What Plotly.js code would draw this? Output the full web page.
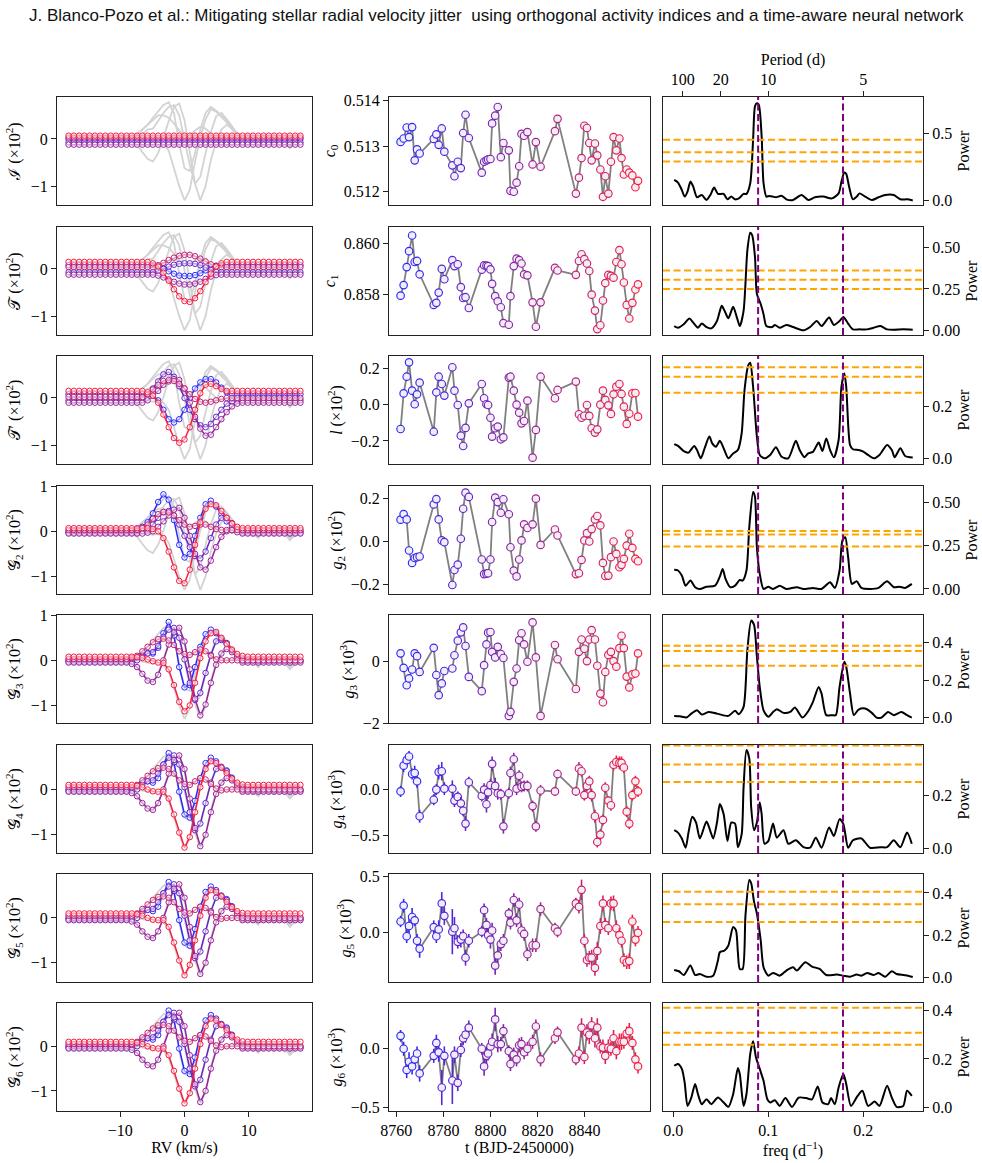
<!DOCTYPE html>
<html><head><meta charset="utf-8">
<script src="https://cdn.plot.ly/plotly-3.0.1.min.js"></script>
<style>html,body{margin:0;padding:0;background:#fff}</style>
</head><body><div id="chart" style="width:982px;height:1163px"></div>
<script>
// ---------------- DATA ----------------
const rvGrid = [-18.04,-17.22,-16.40,-15.58,-14.76,-13.94,-13.12,-12.30,-11.48,-10.66,-9.84,-9.02,-8.20,-7.38,-6.56,-5.74,-4.92,-4.10,-3.28,-2.46,-1.64,-0.82,0,0.82,1.64,2.46,3.28,4.10,4.92,5.74,6.56,7.38,8.20,9.02,9.84,10.66,11.48,12.30,13.12,13.94,14.76,15.58,16.40,17.22,18.04];

// gray observed profiles (x10^2), same background in every left panel
const grayA = [0.0,0.03,-0.02,0.0,0.04,0.0,-0.05,0.0,0.02,0.05,0.0,-0.03,0.02,0.0,-0.02,-0.05,-0.08,-0.06,-0.1,-0.25,-0.62,-1.0,-1.3,-1.08,-0.48,0.02,0.42,0.63,0.58,0.47,0.35,0.2,0.08,0.04,-0.02,0.05,-0.12,-0.02,0.03,0.0,-0.05,0.02,-0.15,-0.05,0.0];
const grayB = [0.0,-0.03,0.02,0.0,-0.02,0.03,0.0,-0.04,0.0,0.03,-0.02,0.0,-0.05,-0.12,-0.28,-0.42,-0.48,-0.3,0.02,0.38,0.68,0.75,0.4,-0.3,-0.95,-1.3,-1.0,-0.45,-0.05,0.2,0.3,0.22,0.1,0.02,0.04,-0.05,-0.15,0.0,0.02,-0.03,0.05,-0.05,-0.2,-0.08,-0.02];
const grayC = [0.02,0.0,-0.02,0.03,0.0,-0.03,0.02,0.0,0.03,-0.02,0.0,0.03,0.05,0.1,0.2,0.3,0.45,0.58,0.72,0.78,0.55,-0.1,-0.62,-0.68,-0.3,0.2,0.55,0.68,0.6,0.5,0.4,0.22,0.08,0.0,0.06,-0.04,-0.1,0.03,0.0,-0.05,0.04,0.0,-0.12,0.02,0.0];
const grayD = [-0.02,0.0,0.03,-0.02,0.0,0.02,-0.03,0.0,0.02,0.0,-0.03,0.0,0.03,0.02,0.1,0.2,0.22,0.38,0.55,0.68,0.72,0.5,0.0,-0.55,-0.95,-0.8,-0.3,0.15,0.48,0.55,0.42,0.28,0.12,0.05,0.1,-0.05,-0.12,0.05,0.0,-0.08,0.0,0.05,-0.18,0.0,-0.03];
const grayE = [0.03,0.0,0.02,-0.02,0.03,0.0,0.02,-0.03,0.0,0.02,0.05,0.02,0.05,0.1,0.2,0.32,0.42,0.5,0.5,0.45,0.33,0.18,0.1,0.08,0.18,0.26,0.22,0.1,0.0,-0.04,-0.02,0.0,0.1,0.04,0.0,-0.06,-0.1,0.02,0.0,-0.05,0.03,0.0,-0.15,-0.02,0.0];

// reconstructed profiles: blue, indigo, purple, plum, red
const I_blue   = [0,0,0,0,0,0,0,0,0,0,0,0,0,0,0,0,0,0,0,0,0,0,0,0,0,0,0,0,0,0,0,0,0,0,0,0,0,0,0,0,0,0,0,0,0];
const I_indigo = [-0.07,-0.07,-0.07,-0.07,-0.07,-0.07,-0.07,-0.07,-0.07,-0.07,-0.07,-0.07,-0.07,-0.07,-0.07,-0.07,-0.07,-0.07,-0.07,-0.07,-0.07,-0.07,-0.07,-0.07,-0.07,-0.07,-0.07,-0.07,-0.07,-0.07,-0.07,-0.07,-0.07,-0.07,-0.07,-0.07,-0.07,-0.07,-0.07,-0.07,-0.07,-0.07,-0.07,-0.07,-0.07];
const I_purple = [-0.12,-0.12,-0.12,-0.12,-0.12,-0.12,-0.12,-0.12,-0.12,-0.12,-0.12,-0.12,-0.12,-0.12,-0.12,-0.12,-0.12,-0.12,-0.12,-0.12,-0.12,-0.12,-0.12,-0.12,-0.12,-0.12,-0.12,-0.12,-0.12,-0.12,-0.12,-0.12,-0.12,-0.12,-0.12,-0.12,-0.12,-0.12,-0.12,-0.12,-0.12,-0.12,-0.12,-0.12,-0.12];
const I_plum   = [0.03,0.03,0.03,0.03,0.03,0.03,0.03,0.03,0.03,0.03,0.03,0.03,0.03,0.03,0.03,0.03,0.03,0.03,0.03,0.03,0.03,0.03,0.03,0.03,0.03,0.03,0.03,0.03,0.03,0.03,0.03,0.03,0.03,0.03,0.03,0.03,0.03,0.03,0.03,0.03,0.03,0.03,0.03,0.03,0.03];
const I_red    = [0.07,0.07,0.07,0.07,0.07,0.07,0.07,0.07,0.07,0.07,0.07,0.07,0.07,0.07,0.07,0.07,0.07,0.07,0.07,0.07,0.07,0.07,0.07,0.07,0.07,0.07,0.07,0.07,0.07,0.07,0.07,0.07,0.07,0.07,0.07,0.07,0.07,0.07,0.07,0.07,0.07,0.07,0.07,0.07,0.07];

const T_blue   = [0.08,0.08,0.08,0.08,0.08,0.08,0.08,0.08,0.08,0.08,0.08,0.08,0.08,0.08,0.08,0.08,0.08,0.06,0.02,-0.05,-0.10,-0.14,-0.15,-0.15,-0.13,-0.09,-0.03,0.03,0.07,0.08,0.08,0.08,0.08,0.08,0.08,0.08,0.08,0.08,0.08,0.08,0.08,0.08,0.08,0.08,0.08];
const T_indigo = [-0.07,-0.07,-0.07,-0.07,-0.07,-0.07,-0.07,-0.07,-0.07,-0.07,-0.07,-0.07,-0.07,-0.07,-0.07,-0.07,-0.07,-0.04,0.0,0.05,0.09,0.11,0.12,0.12,0.11,0.08,0.03,-0.02,-0.06,-0.07,-0.07,-0.07,-0.07,-0.07,-0.07,-0.07,-0.07,-0.07,-0.07,-0.07,-0.07,-0.07,-0.07,-0.07,-0.07];
const T_purple = [-0.12,-0.12,-0.12,-0.12,-0.12,-0.12,-0.12,-0.12,-0.12,-0.12,-0.12,-0.12,-0.12,-0.12,-0.12,-0.12,-0.12,-0.14,-0.18,-0.22,-0.27,-0.31,-0.33,-0.33,-0.31,-0.27,-0.21,-0.16,-0.13,-0.12,-0.12,-0.12,-0.12,-0.12,-0.12,-0.12,-0.12,-0.12,-0.12,-0.12,-0.12,-0.12,-0.12,-0.12,-0.12];
const T_plum   = [0.04,0.04,0.04,0.04,0.04,0.04,0.04,0.04,0.04,0.04,0.04,0.04,0.04,0.04,0.04,0.04,0.04,0.08,0.13,0.19,0.24,0.28,0.30,0.30,0.27,0.22,0.16,0.10,0.06,0.04,0.04,0.04,0.04,0.04,0.04,0.04,0.04,0.04,0.04,0.04,0.04,0.04,0.04,0.04,0.04];
const T_red    = [0.15,0.15,0.15,0.15,0.15,0.15,0.15,0.15,0.15,0.15,0.15,0.15,0.15,0.15,0.15,0.15,0.12,0.05,-0.08,-0.25,-0.43,-0.58,-0.68,-0.70,-0.62,-0.47,-0.28,-0.10,0.05,0.12,0.15,0.15,0.15,0.15,0.15,0.15,0.15,0.15,0.15,0.15,0.15,0.15,0.15,0.15,0.15];

const Tp_blue   = [0.08,0.08,0.08,0.08,0.08,0.08,0.08,0.08,0.08,0.08,0.08,0.08,0.08,0.08,0.08,0.08,0.05,-0.05,-0.25,-0.45,-0.52,-0.45,-0.25,0.0,0.20,0.33,0.40,0.40,0.33,0.22,0.12,0.09,0.08,0.08,0.08,0.08,0.08,0.08,0.08,0.08,0.08,0.08,0.08,0.08,0.08];
const Tp_indigo = [-0.05,-0.05,-0.05,-0.05,-0.05,-0.05,-0.05,-0.05,-0.05,-0.05,-0.05,-0.05,-0.05,-0.05,0.0,0.08,0.20,0.35,0.50,0.55,0.45,0.25,0.0,-0.25,-0.45,-0.58,-0.62,-0.55,-0.40,-0.25,-0.12,-0.07,-0.05,-0.05,-0.05,-0.05,-0.05,-0.05,-0.05,-0.05,-0.05,-0.05,-0.05,-0.05,-0.05];
const Tp_purple = [-0.10,-0.10,-0.10,-0.10,-0.10,-0.10,-0.10,-0.10,-0.10,-0.10,-0.10,-0.10,-0.10,-0.10,-0.10,-0.05,0.05,0.15,0.28,0.35,0.40,0.38,0.20,-0.10,-0.40,-0.65,-0.80,-0.78,-0.62,-0.45,-0.30,-0.18,-0.12,-0.10,-0.10,-0.10,-0.10,-0.10,-0.10,-0.10,-0.10,-0.10,-0.10,-0.10,-0.10];
const Tp_plum   = [0.02,0.02,0.02,0.02,0.02,0.02,0.02,0.02,0.02,0.02,0.02,0.02,0.02,0.02,0.02,0.08,0.18,0.28,0.36,0.38,0.36,0.30,0.20,0.08,-0.02,-0.08,-0.10,-0.08,-0.05,-0.02,0.0,0.0,0.0,0.0,0.0,0.0,0.0,0.0,0.0,0.0,0.0,0.0,0.0,0.0,0.0];
const Tp_red    = [0.15,0.15,0.15,0.15,0.15,0.15,0.15,0.15,0.15,0.15,0.15,0.15,0.15,0.15,0.15,0.12,0.05,-0.10,-0.35,-0.62,-0.85,-0.95,-0.88,-0.62,-0.25,0.10,0.28,0.30,0.25,0.19,0.15,0.15,0.15,0.15,0.15,0.15,0.15,0.15,0.15,0.15,0.15,0.15,0.15,0.15,0.15];

const G2_blue   = [0,0,0,0,0,0,0,0,0,0,0,0,0,0.05,0.10,0.20,0.40,0.65,0.82,0.70,0.25,-0.30,-0.58,-0.50,-0.10,0.30,0.60,0.68,0.55,0.38,0.22,0.10,0.03,0,0,0,0,0,0,0,0,0,0,0,0];
const G2_indigo = [-0.03,-0.03,-0.03,-0.03,-0.03,-0.03,-0.03,-0.03,-0.03,-0.03,-0.03,-0.03,-0.03,-0.03,0.0,0.05,0.15,0.30,0.42,0.45,0.35,0.15,-0.10,-0.35,-0.55,-0.60,-0.45,-0.15,0.15,0.30,0.30,0.18,0.05,-0.03,-0.03,-0.03,-0.03,-0.03,-0.03,-0.03,-0.03,-0.03,-0.03,-0.03,-0.03];
const G2_purple = [-0.05,-0.05,-0.05,-0.05,-0.05,-0.05,-0.05,-0.05,-0.05,-0.05,-0.05,-0.05,-0.05,-0.05,-0.05,-0.03,0.0,0.10,0.22,0.35,0.48,0.52,0.30,-0.10,-0.50,-0.80,-0.85,-0.65,-0.35,-0.12,0.0,0.02,-0.02,-0.05,-0.05,-0.05,-0.05,-0.05,-0.05,-0.05,-0.05,-0.05,-0.05,-0.05,-0.05];
const G2_plum   = [0.03,0.03,0.03,0.03,0.03,0.03,0.03,0.03,0.03,0.03,0.03,0.03,0.03,0.03,0.08,0.15,0.28,0.38,0.43,0.42,0.35,0.25,0.15,0.10,0.12,0.15,0.15,0.10,0.05,0.03,0.03,0.03,0.03,0.03,0.03,0.03,0.03,0.03,0.03,0.03,0.03,0.03,0.03,0.03,0.03];
const G2_red    = [0.07,0.07,0.07,0.07,0.07,0.07,0.07,0.07,0.07,0.07,0.07,0.07,0.07,0.07,0.07,0.07,0.05,0.0,-0.15,-0.45,-0.80,-1.10,-1.15,-0.85,-0.30,0.20,0.50,0.60,0.58,0.45,0.30,0.17,0.10,0.07,0.07,0.07,0.07,0.07,0.07,0.07,0.07,0.07,0.07,0.07,0.07];

const G3_blue   = [0,0,0,0,0,0,0,0,0,0,0,0,0.02,0.06,0.12,0.16,0.15,0.28,0.60,0.85,0.55,-0.15,-0.60,-0.55,-0.15,0.30,0.58,0.68,0.60,0.45,0.38,0.22,0.08,0.02,0,0,0,0,0,0,0,0,0,0,0];
const G3_indigo = [-0.03,-0.03,-0.03,-0.03,-0.03,-0.03,-0.03,-0.03,-0.03,-0.03,-0.03,-0.03,-0.03,0.0,0.08,0.15,0.18,0.32,0.52,0.68,0.72,0.50,0.02,-0.50,-0.88,-0.72,-0.28,0.12,0.42,0.48,0.38,0.22,0.08,-0.02,-0.02,-0.02,-0.02,-0.02,-0.02,-0.02,-0.02,-0.02,-0.02,-0.02,-0.02];
const G3_purple = [-0.05,-0.05,-0.05,-0.05,-0.05,-0.05,-0.05,-0.05,-0.05,-0.05,-0.05,-0.05,-0.08,-0.15,-0.30,-0.45,-0.48,-0.32,0.0,0.35,0.62,0.72,0.42,-0.20,-0.85,-1.22,-0.98,-0.50,-0.10,0.15,0.25,0.18,0.06,-0.05,-0.05,-0.05,-0.05,-0.05,-0.05,-0.05,-0.05,-0.05,-0.05,-0.05,-0.05];
const G3_plum   = [0.03,0.03,0.03,0.03,0.03,0.03,0.03,0.03,0.03,0.03,0.03,0.03,0.05,0.10,0.20,0.30,0.40,0.47,0.48,0.44,0.34,0.20,0.14,0.12,0.18,0.24,0.20,0.10,0.02,0.0,0.0,0.0,0.0,0.0,0.0,0.0,0.0,0.0,0.0,0.0,0.0,0.0,0.0,0.0,0.0];
const G3_red    = [0.08,0.08,0.08,0.08,0.08,0.08,0.08,0.08,0.08,0.08,0.08,0.08,0.08,0.07,0.05,0.02,-0.02,-0.05,-0.06,-0.20,-0.55,-0.92,-1.13,-1.00,-0.50,0.05,0.42,0.60,0.63,0.50,0.36,0.24,0.14,0.10,0.08,0.08,0.08,0.08,0.08,0.08,0.08,0.08,0.08,0.08,0.08];

// G4, G5, G6 look the same at this scale
const G456_blue   = [0,0,0,0,0,0,0,0,0,0,0,0,0.02,0.08,0.15,0.18,0.15,0.25,0.55,0.80,0.60,-0.05,-0.55,-0.62,-0.25,0.25,0.58,0.70,0.62,0.48,0.42,0.26,0.10,0.03,0,0,0,0,0,0,0,0,0,0,0];
const G456_indigo = [-0.03,-0.03,-0.03,-0.03,-0.03,-0.03,-0.03,-0.03,-0.03,-0.03,-0.03,-0.03,-0.03,0.0,0.10,0.18,0.20,0.35,0.55,0.70,0.75,0.55,0.05,-0.50,-0.90,-0.75,-0.30,0.15,0.45,0.50,0.40,0.25,0.10,-0.03,-0.03,-0.03,-0.03,-0.03,-0.03,-0.03,-0.03,-0.03,-0.03,-0.03,-0.03];
const G456_purple = [-0.05,-0.05,-0.05,-0.05,-0.05,-0.05,-0.05,-0.05,-0.05,-0.05,-0.05,-0.05,-0.08,-0.15,-0.30,-0.42,-0.45,-0.30,0.0,0.35,0.65,0.75,0.45,-0.20,-0.85,-1.25,-1.00,-0.50,-0.10,0.15,0.25,0.20,0.08,-0.05,-0.05,-0.05,-0.05,-0.05,-0.05,-0.05,-0.05,-0.05,-0.05,-0.05,-0.05];
const G456_plum   = [0.05,0.05,0.05,0.05,0.05,0.05,0.05,0.05,0.05,0.05,0.05,0.05,0.05,0.10,0.20,0.30,0.40,0.47,0.48,0.45,0.35,0.20,0.12,0.10,0.18,0.25,0.22,0.12,0.02,-0.02,0.0,0.0,0.0,0.0,0.0,0.0,0.0,0.0,0.0,0.0,0.0,0.0,0.0,0.0,0.0];
const G456_red    = [0.10,0.10,0.10,0.10,0.10,0.10,0.10,0.10,0.10,0.10,0.10,0.10,0.10,0.08,0.05,0.0,-0.04,-0.05,-0.05,-0.20,-0.55,-0.95,-1.28,-1.05,-0.50,0.05,0.45,0.62,0.58,0.48,0.36,0.24,0.15,0.11,0.10,0.10,0.10,0.10,0.10,0.10,0.10,0.10,0.10,0.10,0.10];

// time series (BJD-2450000)
const tObs = [8761.8,8763.1,8764.4,8765.4,8766.7,8767.8,8768.8,8769.9,8775.9,8777.0,8778.0,8779.3,8780.4,8783.8,8784.7,8786.1,8787.4,8788.4,8789.4,8790.8,8796.3,8797.3,8798.3,8799.0,8800.0,8800.7,8802.0,8803.1,8804.4,8805.5,8807.8,8808.5,8809.9,8811.1,8812.2,8813.2,8814.3,8815.7,8817.9,8819.3,8821.3,8827.4,8828.5,8836.3,8837.6,8838.7,8839.9,8841.0,8842.0,8843.0,8844.4,8845.4,8846.7,8847.8,8848.8,8850.1,8851.2,8852.3,8853.5,8854.8,8855.7,8856.7,8857.9,8859.0,8860.3,8861.6,8862.7];
const c0 = [0.513095,0.51317,0.51341,0.51320,0.51342,0.51269,0.51293,0.51284,0.51316,0.51326,0.51303,0.51339,0.51288,0.51258,0.51234,0.51266,0.51252,0.51329,0.51369,0.51318,0.51242,0.51266,0.51269,0.51271,0.51272,0.51350,0.51367,0.51386,0.51276,0.51307,0.51291,0.51202,0.51200,0.51220,0.51256,0.51327,0.51323,0.51331,0.51260,0.51309,0.51255,0.51333,0.51360,0.51196,0.51231,0.51274,0.51345,0.51340,0.51307,0.51269,0.51306,0.51280,0.51249,0.51189,0.51234,0.51196,0.51266,0.51320,0.51291,0.51317,0.51274,0.51238,0.51249,0.51242,0.51236,0.51210,0.51224];
const c1 = [0.85797,0.85838,0.85908,0.85970,0.86031,0.85928,0.85932,0.85880,0.85761,0.85769,0.85809,0.85901,0.85861,0.85935,0.85912,0.85919,0.85830,0.85788,0.85791,0.85749,0.85898,0.85915,0.85914,0.85912,0.85899,0.85843,0.85795,0.85775,0.85752,0.85690,0.85684,0.85795,0.85912,0.85941,0.85935,0.85922,0.85880,0.85876,0.85771,0.85676,0.85771,0.85905,0.85895,0.85878,0.85932,0.85958,0.85939,0.85922,0.85893,0.85801,0.85739,0.85667,0.85682,0.85778,0.85846,0.85878,0.85874,0.85867,0.85928,0.85974,0.85919,0.85848,0.85761,0.85708,0.85769,0.85821,0.85841];
const lIdx = [-0.134,0.062,0.154,0.233,0.077,0.002,0.057,0.121,-0.149,0.068,0.154,0.114,0.050,0.206,0.077,-0.002,-0.171,-0.228,-0.128,0.007,0.114,0.035,0.002,-0.002,-0.072,-0.176,-0.130,-0.121,-0.191,-0.180,0.149,0.154,0.077,0.0,-0.044,-0.103,-0.090,0.022,-0.292,-0.139,0.154,0.035,0.081,0.127,-0.053,-0.072,-0.061,-0.002,-0.062,-0.130,-0.154,-0.136,0.0,0.077,0.026,-0.004,-0.051,0.057,0.099,0.114,0.059,-0.011,-0.106,-0.050,0.062,0.064,-0.066];
const g2 = [0.102,0.128,0.103,-0.042,-0.100,-0.077,-0.073,-0.070,0.173,0.198,0.103,0.005,-0.003,-0.203,-0.133,-0.108,0.013,0.153,0.228,0.208,-0.084,-0.152,-0.150,-0.148,-0.084,0.091,0.205,0.184,0.134,0.197,0.127,-0.027,-0.136,-0.163,-0.084,0.005,0.080,0.063,0.080,0.200,-0.016,0.056,0.028,-0.152,-0.148,-0.086,0.005,0.039,0.0,0.058,0.103,0.119,0.075,-0.100,-0.161,-0.159,-0.073,0.0,-0.058,-0.120,-0.109,-0.081,-0.019,0.036,-0.030,-0.081,-0.092];
const g3 = [0.25,-0.22,-0.78,-0.56,-0.27,0.25,0.16,-0.35,0.43,-0.45,-1.10,-0.72,-0.32,-0.24,0.19,0.66,0.93,1.09,0.49,-0.51,-0.97,-0.13,0.54,0.92,0.94,0.30,0.12,0.46,0.23,0.10,-1.77,-1.64,-0.67,-0.24,0.68,0.90,0.54,-0.02,1.25,0.12,-1.77,0.52,0.06,-0.90,0.30,0.70,0.40,0.00,0.70,1.00,0.70,-0.15,-1.05,-1.33,-0.35,0.20,0.30,0.00,-0.18,0.42,0.82,0.42,-0.50,-0.85,-0.43,-0.40,0.25];
const g4 = [-0.02,0.26,0.32,0.36,0.17,0.18,0.09,-0.29,-0.11,0.0,0.19,0.20,0.01,0.01,-0.12,-0.08,-0.15,-0.23,-0.37,0.08,-0.07,0.0,-0.16,-0.03,0.05,0.28,0.04,-0.04,-0.05,-0.40,-0.04,0.18,0.33,0.01,0.15,0.03,0.04,0.04,-0.18,-0.40,-0.01,-0.02,0.17,-0.02,0.23,0.20,-0.06,0.04,0.09,-0.06,-0.29,-0.57,-0.49,-0.33,0.02,-0.12,-0.17,0.27,0.30,0.29,0.29,0.24,-0.24,-0.37,-0.06,0.09,-0.02];
const g5 = [0.10,0.24,-0.03,0.06,0.14,0.11,-0.07,-0.14,0.05,-0.03,0.03,0.26,0.15,0.01,0.04,-0.08,-0.06,-0.03,-0.22,-0.07,0.01,0.20,0.07,-0.02,-0.06,0.02,-0.29,-0.20,-0.10,-0.07,0.17,0.09,0.29,0.11,0.25,0.02,-0.01,-0.19,-0.11,-0.11,0.21,0.04,0.01,0.26,0.23,0.38,-0.07,-0.24,-0.22,-0.22,-0.31,-0.16,0.06,0.26,0.07,0.04,0.26,0.26,0.04,-0.02,-0.07,-0.24,-0.26,-0.25,0.10,-0.06,0.0];
const g6 = [0.11,0.0,-0.18,-0.11,-0.15,-0.09,-0.04,-0.21,-0.06,0.05,-0.03,-0.33,-0.06,-0.27,-0.05,-0.29,-0.01,0.09,0.12,0.18,0.0,-0.15,-0.06,-0.04,0.02,0.06,0.25,0.04,0.04,0.15,-0.02,-0.13,-0.05,-0.09,0.03,0.04,-0.03,0.0,0.06,0.19,-0.09,0.09,0.14,-0.09,-0.04,0.18,-0.07,0.14,0.12,0.20,0.09,0.18,0.02,0.01,-0.06,0.01,0.0,0.09,-0.02,0.06,0.06,0.06,0.13,0.15,0.05,-0.09,-0.15];
// uncertainties
const errSmall = [0.00004,0.00003,0.006,0.006,0.06];
const errG4 = [0.06,0.07,0.07,0.06,0.06,0.08,0.07,0.07,0.06,0.06,0.08,0.10,0.07,0.09,0.07,0.06,0.07,0.06,0.08,0.06,0.06,0.07,0.09,0.07,0.07,0.08,0.09,0.07,0.06,0.08,0.06,0.07,0.07,0.07,0.06,0.06,0.06,0.06,0.06,0.06,0.06,0.05,0.05,0.05,0.07,0.06,0.06,0.06,0.06,0.07,0.07,0.06,0.06,0.06,0.06,0.05,0.06,0.06,0.07,0.07,0.07,0.06,0.06,0.06,0.06,0.06,0.06];
const errG5 = [0.05,0.06,0.06,0.07,0.08,0.05,0.06,0.08,0.06,0.06,0.08,0.10,0.08,0.20,0.10,0.06,0.07,0.06,0.07,0.06,0.05,0.06,0.06,0.07,0.08,0.07,0.08,0.08,0.06,0.06,0.05,0.06,0.06,0.06,0.06,0.06,0.06,0.06,0.06,0.06,0.06,0.05,0.05,0.05,0.06,0.09,0.06,0.06,0.06,0.07,0.07,0.08,0.07,0.07,0.06,0.06,0.06,0.07,0.07,0.06,0.06,0.06,0.06,0.07,0.06,0.06,0.06];
const errG6 = [0.05,0.06,0.07,0.08,0.07,0.08,0.06,0.07,0.06,0.07,0.08,0.15,0.08,0.20,0.07,0.07,0.06,0.06,0.07,0.06,0.05,0.08,0.08,0.06,0.07,0.07,0.10,0.07,0.06,0.06,0.05,0.06,0.06,0.06,0.06,0.06,0.06,0.06,0.06,0.06,0.06,0.05,0.05,0.05,0.06,0.08,0.06,0.07,0.08,0.07,0.08,0.08,0.06,0.07,0.07,0.07,0.06,0.07,0.07,0.07,0.07,0.06,0.06,0.07,0.06,0.06,0.06];

// periodograms
const pf1 = [0.001,0.005,0.009,0.012,0.015,0.018,0.021,0.025,0.030,0.035,0.039,0.043,0.047,0.053,0.057,0.061,0.065,0.069,0.074,0.077,0.081,0.084,0.086,0.088,0.090,0.093,0.095,0.098,0.101,0.105,0.108,0.114,0.119,0.126,0.135,0.142,0.149,0.158,0.167,0.174,0.177,0.180,0.182,0.185,0.189,0.193,0.196,0.202,0.209,0.216,0.223,0.232,0.239,0.246,0.252];
const pp1 = [0.153,0.134,0.079,0.03,0.067,0.141,0.104,0.025,0.042,0.005,0.042,0.097,0.05,0.05,0.01,0.03,0.01,0.017,0.05,0.05,0.129,0.45,0.698,0.72,0.71,0.475,0.129,0.03,0.035,0.03,0.025,0.037,0.01,0.005,0.042,0.005,0.025,0.03,0.017,0.054,0.141,0.208,0.198,0.104,0.01,0.03,0.054,0.03,0.005,0.025,0.042,0.042,0.01,0.01,0.002];
const pf2 = [0.001,0.005,0.011,0.017,0.021,0.026,0.030,0.035,0.040,0.046,0.051,0.054,0.058,0.063,0.067,0.070,0.074,0.078,0.081,0.083,0.086,0.088,0.092,0.095,0.098,0.104,0.107,0.112,0.119,0.126,0.137,0.144,0.151,0.156,0.164,0.169,0.175,0.179,0.184,0.189,0.196,0.204,0.211,0.218,0.225,0.232,0.242,0.252];
const pp2 = [0.026,0.016,0.037,0.071,0.047,0.016,0.041,0.02,0.012,0.057,0.148,0.118,0.073,0.142,0.077,0.026,0.118,0.484,0.589,0.575,0.443,0.22,0.159,0.098,0.026,0.02,0.033,0.016,0.033,0.02,0.0,0.02,0.057,0.026,0.077,0.033,0.057,0.081,0.041,0.006,0.006,0.006,0.016,0.026,0.006,0.004,0.006,0.004];
const pf3 = [0.001,0.005,0.011,0.016,0.022,0.025,0.029,0.033,0.038,0.041,0.045,0.049,0.053,0.058,0.063,0.068,0.072,0.075,0.079,0.081,0.084,0.088,0.091,0.096,0.102,0.108,0.114,0.121,0.129,0.133,0.138,0.142,0.147,0.153,0.157,0.161,0.165,0.169,0.174,0.177,0.180,0.182,0.186,0.189,0.195,0.200,0.205,0.211,0.217,0.225,0.230,0.233,0.239,0.244,0.252];
const pp3 = [0.055,0.048,0.028,0.022,0.048,0.032,0.0,0.039,0.084,0.058,0.045,0.068,0.039,0.0,0.019,0.032,0.097,0.265,0.361,0.37,0.277,0.084,0.013,0.0,0.013,0.043,0.006,0.0,0.068,0.032,0.004,0.019,0.025,0.061,0.028,0.077,0.032,0.004,0.071,0.277,0.329,0.277,0.052,0.035,0.032,0.026,0.013,0.0,0.013,0.052,0.032,0.004,0.039,0.009,0.003];
const pf4 = [0.001,0.005,0.009,0.013,0.018,0.023,0.028,0.035,0.044,0.049,0.052,0.055,0.060,0.065,0.070,0.073,0.077,0.080,0.084,0.086,0.088,0.091,0.095,0.100,0.105,0.112,0.119,0.130,0.137,0.147,0.156,0.165,0.170,0.175,0.178,0.181,0.184,0.188,0.193,0.198,0.207,0.216,0.225,0.232,0.238,0.244,0.251];
const pp4 = [0.11,0.106,0.077,0.019,0.048,0.01,0.0,0.013,0.019,0.071,0.115,0.058,0.01,0.019,0.052,0.048,0.106,0.356,0.558,0.529,0.24,0.087,0.0,0.013,0.0,0.019,0.0,0.01,0.0,0.006,0.0,0.038,0.006,0.106,0.279,0.298,0.183,0.029,0.044,0.006,0.0,0.006,0.044,0.01,0.013,0.006,0.029];
const pf5 = [0.001,0.007,0.014,0.019,0.025,0.030,0.037,0.046,0.058,0.065,0.069,0.074,0.078,0.082,0.085,0.088,0.091,0.095,0.100,0.105,0.109,0.116,0.123,0.128,0.136,0.142,0.147,0.153,0.156,0.161,0.167,0.171,0.175,0.180,0.182,0.186,0.190,0.195,0.202,0.209,0.214,0.219,0.226,0.232,0.240,0.246,0.251];
const pp5 = [0.009,0.007,0.0,0.021,0.039,0.016,0.03,0.021,0.009,0.036,0.018,0.057,0.361,0.518,0.495,0.325,0.164,0.039,0.004,0.03,0.045,0.025,0.03,0.054,0.0,0.034,0.084,0.164,0.129,0.013,0.013,0.013,0.164,0.298,0.271,0.129,0.013,0.043,0.048,0.025,0.0,0.0,0.03,0.013,0.03,0.013,0.0];
const pf6 = [0.001,0.005,0.009,0.013,0.016,0.020,0.024,0.028,0.035,0.039,0.042,0.046,0.049,0.053,0.057,0.061,0.065,0.068,0.072,0.074,0.077,0.080,0.082,0.085,0.088,0.091,0.093,0.096,0.100,0.105,0.109,0.116,0.121,0.129,0.137,0.144,0.150,0.156,0.164,0.169,0.175,0.179,0.184,0.189,0.198,0.207,0.218,0.225,0.232,0.239,0.246,0.251];
const pp6 = [0.069,0.06,0.038,0.003,0.06,0.12,0.098,0.038,0.102,0.066,0.038,0.098,0.168,0.13,0.028,0.098,0.094,0.005,0.054,0.232,0.372,0.34,0.155,0.069,0.098,0.175,0.13,0.018,0.028,0.094,0.041,0.069,0.018,0.031,0.005,0.003,0.041,0.003,0.079,0.047,0.111,0.092,0.003,0.031,0.038,0.003,0.005,0.005,0.031,0.005,0.06,0.018];
const pf7 = [0.001,0.006,0.011,0.018,0.023,0.028,0.035,0.042,0.047,0.049,0.054,0.058,0.063,0.066,0.068,0.070,0.073,0.076,0.080,0.082,0.085,0.088,0.092,0.095,0.100,0.105,0.112,0.119,0.126,0.130,0.139,0.146,0.154,0.161,0.172,0.179,0.186,0.193,0.198,0.204,0.211,0.216,0.223,0.230,0.235,0.242,0.247,0.252];
const pp7 = [0.035,0.029,0.011,0.056,0.011,0.016,0.003,0.008,0.08,0.119,0.127,0.151,0.239,0.223,0.119,0.04,0.04,0.295,0.462,0.446,0.358,0.303,0.175,0.048,0.008,0.021,0.008,0.032,0.048,0.032,0.072,0.051,0.04,0.011,0.013,0.008,0.003,0.013,0.008,0.021,0.011,0.021,0.003,0.029,0.016,0.011,0.008,0.002];
const pf8 = [0.001,0.005,0.009,0.012,0.015,0.019,0.023,0.026,0.030,0.035,0.040,0.047,0.053,0.058,0.063,0.068,0.070,0.074,0.077,0.081,0.084,0.087,0.091,0.095,0.099,0.102,0.107,0.112,0.118,0.125,0.132,0.140,0.146,0.152,0.157,0.163,0.166,0.170,0.174,0.179,0.182,0.187,0.194,0.199,0.205,0.212,0.217,0.225,0.230,0.235,0.242,0.246,0.251];
const pp8 = [0.172,0.179,0.159,0.103,0.007,0.041,0.097,0.055,0.014,0.034,0.014,0.041,0.021,0.003,0.055,0.163,0.138,0.007,0.055,0.221,0.273,0.207,0.159,0.11,0.034,0.021,0.03,0.007,0.039,0.003,0.041,0.039,0.034,0.087,0.021,0.014,0.039,0.014,0.083,0.138,0.097,0.007,0.048,0.069,0.007,0.025,0.007,0.09,0.041,0.003,0.007,0.069,0.048];
const faLevels = [[0.450,0.359,0.290],[0.362,0.305,0.25],[0.352,0.316,0.254],[0.333,0.313,0.244],[0.384,0.355,0.277],[0.389,0.317,0.251],[0.406,0.347,0.263],[0.41,0.308,0.258]];
const rotFreqs = [0.0893, 0.1786];
const periodTicks = [100, 20, 10, 5];

// ---------------- LAYOUT / STYLE ----------------
const W = 982, H = 1163;
const FONT = '"Liberation Serif", "DejaVu Serif", serif';
const TFONT = {family:FONT, size:16, color:'#000'};
const colX = [[57,312],[389,650],[663,923]];
const rowTop = [97,227,356,486,615,745,874,1003];
const rowH = 108;
const xd = c => [colX[c][0]/W, colX[c][1]/W];
const yd = r => [1-(rowTop[r]+rowH)/H, 1-rowTop[r]/H];
const ax = (k,p) => p + (k===1 ? '' : k);
const lk = (k,p) => p + 'axis' + (k===1 ? '' : k);

function cmap(f){
  const a=[40,40,255], b=[250,30,60];
  return 'rgb('+a.map((v,i)=>Math.round(v+(b[i]-v)*f)).join(',')+')';
}
const profColors = [cmap(0), cmap(0.3), cmap(0.52), cmap(0.72), cmap(0.97)];

function baseAxis(){
  return {showline:true, mirror:true, linecolor:'#222', linewidth:1, showgrid:false, zeroline:false,
          ticks:'outside', ticklen:5, tickwidth:1, tickcolor:'#222', tickfont:{family:FONT,size:16,color:'#000'}};
}
const mkTitle = (text, standoff) => ({text:text, standoff:standoff, font:TFONT});

const profileSets = [
  [I_blue,I_indigo,I_purple,I_plum,I_red],
  [T_blue,T_indigo,T_purple,T_plum,T_red],
  [Tp_blue,Tp_indigo,Tp_purple,Tp_plum,Tp_red],
  [G2_blue,G2_indigo,G2_purple,G2_plum,G2_red],
  [G3_blue,G3_indigo,G3_purple,G3_plum,G3_red],
  [G456_blue,G456_indigo,G456_purple,G456_plum,G456_red],
  [G456_blue,G456_indigo,G456_purple,G456_plum,G456_red],
  [G456_blue,G456_indigo,G456_purple,G456_plum,G456_red]
];
const grays = [grayA,grayB,grayC,grayD,grayE];
const leftTitles = ['ℐ (×10<sup>2</sup>)','𝒯 (×10<sup>2</sup>)','𝒯′ (×10<sup>2</sup>)','𝒢<sub>2</sub> (×10<sup>2</sup>)','𝒢<sub>3</sub> (×10<sup>2</sup>)','𝒢<sub>4</sub> (×10<sup>2</sup>)','𝒢<sub>5</sub> (×10<sup>2</sup>)','𝒢<sub>6</sub> (×10<sup>2</sup>)'];
const leftRanges = [[-1.40,0.89],[-1.40,0.89],[-1.40,0.89],[-1.39,1.005],[-1.39,1.005],[-1.40,0.98],[-1.43,0.98],[-1.45,0.97]];
const leftTicks = [[-1,0],[-1,0],[-1,0],[-1,0,1],[-1,0,1],[-1,0],[-1,0],[-1,0]];

const tsVals = [c0,c1,lIdx,g2,g3,g4,g5,g6];
const tsErr = [null,null,null,null,null,errG4,errG5,errG6];
const midTitles = ['<i>c</i><sub>0</sub>','<i>c</i><sub>1</sub>','<i>l</i> (×10<sup>2</sup>)','<i>g</i><sub>2</sub> (×10<sup>2</sup>)','<i>g</i><sub>3</sub> (×10<sup>3</sup>)','<i>g</i><sub>4</sub> (×10<sup>3</sup>)','<i>g</i><sub>5</sub> (×10<sup>3</sup>)','<i>g</i><sub>6</sub> (×10<sup>3</sup>)'];
const midRanges = [[0.51171,0.51408],[0.85644,0.86064],[-0.327,0.268],[-0.245,0.259],[-2.0,1.49],[-0.69,0.485],[-0.435,0.52],[-0.53,0.39]];
const midTicks = [[0.512,0.513,0.514],[0.858,0.860],[-0.2,0,0.2],[-0.2,0,0.2],[-2,0],[-0.5,0],[0,0.5],[-0.5,0]];
const midFmt = ['.3f','.3f','.1f','.1f','d','.1f','.1f','.1f'];

const pfs = [pf1,pf2,pf3,pf4,pf5,pf6,pf7,pf8];
const pps = [pp1,pp2,pp3,pp4,pp5,pp6,pp7,pp8];
const rightRanges = [[-0.032,0.767],[-0.028,0.624],[-0.022,0.396],[-0.029,0.592],[-0.029,0.548],[-0.017,0.391],[-0.022,0.49],[-0.014,0.43]];
const rightTicks = [[0,0.5],[0,0.25,0.5],[0,0.2],[0,0.25,0.5],[0,0.2,0.4],[0,0.2],[0,0.2,0.4],[0,0.2,0.4]];
const rightFmt = ['.1f','.2f','.1f','.2f','.1f','.1f','.1f','.1f'];

const traces = [];
const layout = {width:W, height:H, margin:{l:0,r:0,t:0,b:0}, paper_bgcolor:'#fff', plot_bgcolor:'#fff',
  showlegend:false, hovermode:false, font:{family:FONT,size:16,color:'#000'}, shapes:[], annotations:[]};

const t0 = tObs[0], tN = tObs[tObs.length-1];
const tFrac = tObs.map(t => (t-t0)/(tN-t0));
const NB = 12;

for (let r=0; r<8; r++){
  const last = (r===7);
  // ---- left column: profiles
  let k = r*3+1;
  grays.forEach(g => traces.push({type:'scatter', mode:'lines', x:rvGrid, y:g, xaxis:ax(k,'x'), yaxis:ax(k,'y'),
    line:{color:'#d3d3d3', width:1.8}}));
  profileSets[r].forEach((p,i) => traces.push({type:'scatter', mode:'lines+markers', x:rvGrid, y:p, xaxis:ax(k,'x'), yaxis:ax(k,'y'),
    line:{color:profColors[i], width:1.5}, marker:{symbol:'circle', size:5.5, color:'rgba(255,255,255,0.55)', line:{color:profColors[i], width:1}}}));
  let xa = baseAxis(); xa.domain = xd(0); xa.anchor = ax(k,'y'); xa.range = [-19.84,19.84];
  if (last){ xa.tickvals=[-10,0,10]; xa.title=mkTitle('RV (km/s)',2); }
  else { xa.showticklabels=false; xa.ticks=''; }
  let ya = baseAxis(); ya.domain = yd(r); ya.anchor = ax(k,'x'); ya.range = leftRanges[r]; ya.tickvals = leftTicks[r];
  ya.title = mkTitle(leftTitles[r], 6);
  layout[lk(k,'x')] = xa; layout[lk(k,'y')] = ya;

  // ---- middle column: time series
  k = r*3+2;
  const vals = tsVals[r];
  const errs = tsErr[r] ? tsErr[r] : tObs.map(()=>errSmall[r]);
  traces.push({type:'scatter', mode:'lines', x:tObs, y:vals, xaxis:ax(k,'x'), yaxis:ax(k,'y'), line:{color:'#808080', width:1.8}});
  for (let b=0; b<NB; b++){
    const idx = [];
    tFrac.forEach((f,i)=>{ if (Math.min(NB-1, Math.floor(f*NB))===b) idx.push(i); });
    if (!idx.length) continue;
    traces.push({type:'scatter', mode:'markers', x:idx.map(i=>tObs[i]), y:idx.map(i=>vals[i]), xaxis:ax(k,'x'), yaxis:ax(k,'y'),
      error_y:{type:'data', array:idx.map(i=>errs[i]), color:cmap((b+0.5)/NB), thickness:1.6, width:0},
      marker:{symbol:'circle', size:7.5, color:'rgb(240,237,246)', line:{width:1.15, color:idx.map(i=>cmap(tFrac[i]))}}});
  }
  xa = baseAxis(); xa.domain = xd(1); xa.anchor = ax(k,'y'); xa.range = [8756.88, 8867.8];
  if (last){ xa.tickvals=[8760,8780,8800,8820,8840]; xa.title=mkTitle('t (BJD-2450000)',2); }
  else { xa.showticklabels=false; xa.ticks=''; }
  ya = baseAxis(); ya.domain = yd(r); ya.anchor = ax(k,'x'); ya.range = midRanges[r]; ya.tickvals = midTicks[r]; ya.tickformat = midFmt[r];
  ya.title = mkTitle(midTitles[r], 4);
  layout[lk(k,'x')] = xa; layout[lk(k,'y')] = ya;

  // ---- right column: periodograms
  k = r*3+3;
  traces.push({type:'scatter', mode:'lines', x:pfs[r], y:pps[r], xaxis:ax(k,'x'), yaxis:ax(k,'y'),
    line:{color:'#000', width:2, shape:'spline', smoothing:0.7}});
  faLevels[r].forEach(v => layout.shapes.push({type:'line', xref:ax(k,'x')+' domain', yref:ax(k,'y'), x0:0, x1:1, y0:v, y1:v,
    line:{color:'#ffa500', width:2, dash:'7px,3.5px'}}));
  rotFreqs.forEach(f => layout.shapes.push({type:'line', xref:ax(k,'x'), yref:ax(k,'y')+' domain', x0:f, x1:f, y0:0, y1:1,
    line:{color:'#800080', width:2, dash:'7px,3.5px'}}));
  xa = baseAxis(); xa.domain = xd(2); xa.anchor = ax(k,'y'); xa.range = [-0.0108, 0.2628];
  if (last){ xa.tickvals=[0,0.1,0.2]; xa.tickformat='.1f'; xa.title=mkTitle('freq (d<sup>−1</sup>)',2); }
  else { xa.showticklabels=false; xa.ticks=''; }
  ya = baseAxis(); ya.domain = yd(r); ya.anchor = ax(k,'x'); ya.side='right'; ya.range = rightRanges[r];
  ya.tickvals = rightTicks[r]; ya.tickformat = rightFmt[r]; ya.title = mkTitle('Power', 6);
  layout[lk(k,'x')] = xa; layout[lk(k,'y')] = ya;
}

// top period axis for first periodogram
const pa = baseAxis();
pa.overlaying = 'x3'; pa.anchor = 'y3'; pa.side = 'top'; pa.range = [-0.0108, 0.2628];
pa.tickvals = periodTicks.map(p => 1/p); pa.ticktext = periodTicks.map(String);
pa.showline = false; pa.mirror = false; pa.title = mkTitle('Period (d)', 0);
layout.xaxis25 = pa;
traces.push({type:'scatter', mode:'markers', x:[0.1], y:[-10], xaxis:'x25', yaxis:'y3', marker:{opacity:0}, showlegend:false});

layout.annotations.push({xref:'paper', yref:'paper', x:0.506, y:1-15/H, xanchor:'center', yanchor:'middle', showarrow:false,
  text:'J. Blanco-Pozo et al.: Mitigating stellar radial velocity jitter  using orthogonal activity indices and a time-aware neural network',
  font:{family:'"Liberation Sans", Arial, sans-serif', size:17, color:'#111'}});

Plotly.newPlot('chart', traces, layout, {displayModeBar:false, staticPlot:true});
</script></body></html>
